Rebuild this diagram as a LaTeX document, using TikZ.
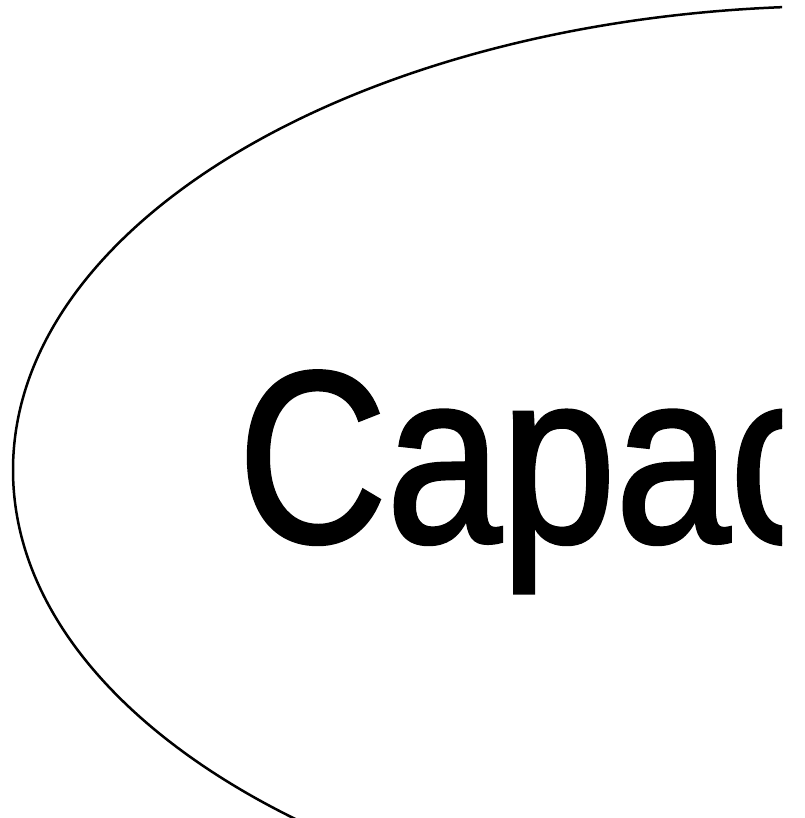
\documentclass[tikz,border=0pt]{standalone}
\usepackage{fontspec}
\newfontfamily\labelfont[FakeStretch=0.84, FakeBold=1.5]{Liberation Sans}
\usetikzlibrary{shapes.geometric, positioning}

\begin{document}
\begin{tikzpicture}[
    x=1pt, y=-1pt,
    blob/.style={ellipse, draw, line width=2.5pt, inner sep=0pt,
                 minimum width=1656pt, minimum height=928pt},
    word/.style={inner sep=0pt, anchor=base west,
                 font=\labelfont\fontsize{245}{245}\selectfont}
]

\useasboundingbox[fill=white] (0,0) rectangle (804,818);

\begin{scope}
\clip (0,0) rectangle (782,818);

% the ellipse, only its left part shows
\node[blob] (capacity) at (841,470) {};

% label, cut off at the right edge
\node[word] (label) at (238,542) {Capac};
\end{scope}

\end{tikzpicture}
\end{document}
